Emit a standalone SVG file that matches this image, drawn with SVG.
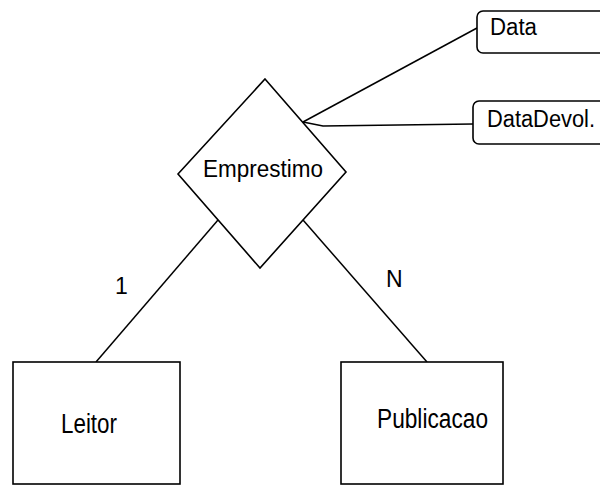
<svg xmlns="http://www.w3.org/2000/svg" width="600" height="488" viewBox="0 0 600 488">
  <style>
    .shape { fill: #ffffff; stroke: #000000; stroke-width: 1.6; }
    .link { fill: none; stroke: #000000; stroke-width: 1.5; }
    .label { font-family: "Liberation Sans", Arial, sans-serif; font-size: 23px; fill: #000000; }
    .big { font-size: 27px; }
  </style>
  <rect width="600" height="488" fill="#ffffff"/>

  <!-- connectors -->
  <g id="connectors">
    <line class="link" x1="303" y1="122" x2="477" y2="28"/>
    <polyline class="link" points="303,122 323,126 473,124"/>
    <line class="link" x1="218" y1="220" x2="96" y2="362"/>
    <line class="link" x1="303" y1="220" x2="427" y2="362"/>
    <text class="label" x="115" y="294">1</text>
    <text class="label" x="386" y="287">N</text>
  </g>

  <!-- relationship -->
  <g id="emprestimo">
    <polygon class="shape" points="265,79 346,172 260,268 178,174"/>
    <text class="label" x="203" y="177" textLength="120" lengthAdjust="spacingAndGlyphs">Emprestimo</text>
  </g>

  <!-- attributes -->
  <g id="data">
    <rect class="shape" x="477" y="11" width="140" height="42" rx="6"/>
    <text class="label" x="490" y="35" textLength="47" lengthAdjust="spacingAndGlyphs">Data</text>
  </g>
  <g id="datadevol">
    <rect class="shape" x="473" y="101" width="140" height="43" rx="6"/>
    <text class="label" x="487" y="127" textLength="108" lengthAdjust="spacingAndGlyphs">DataDevol.</text>
  </g>

  <!-- entities -->
  <g id="leitor">
    <rect class="shape" x="13" y="362" width="167" height="122"/>
    <text class="label big" x="61" y="433" textLength="56" lengthAdjust="spacingAndGlyphs">Leitor</text>
  </g>
  <g id="publicacao">
    <rect class="shape" x="341" y="362" width="162" height="122"/>
    <text class="label big" x="377" y="428" textLength="111" lengthAdjust="spacingAndGlyphs">Publicacao</text>
  </g>
</svg>
